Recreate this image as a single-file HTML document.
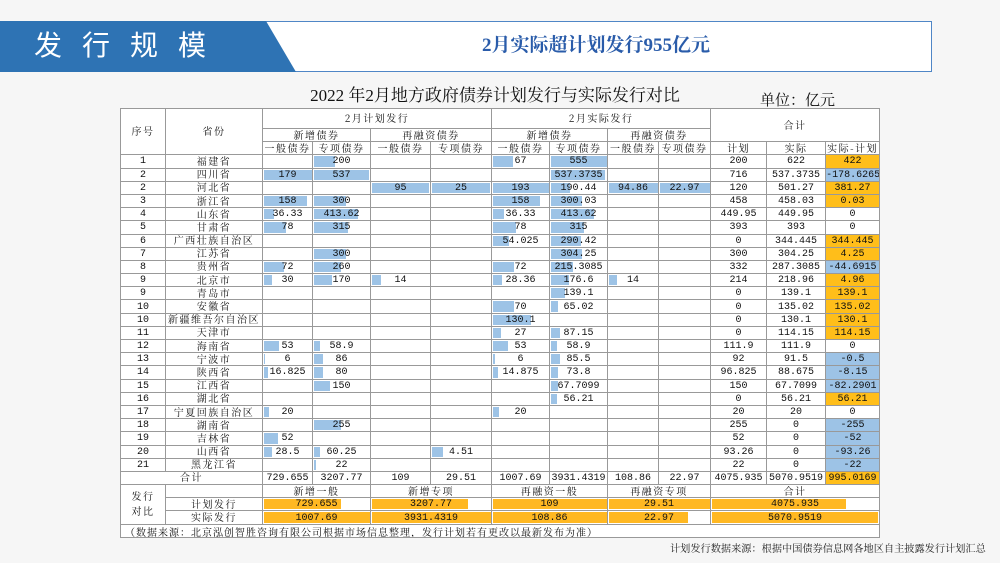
<!DOCTYPE html>
<html><head><meta charset="utf-8"><style>
*{margin:0;padding:0;box-sizing:border-box}
body{width:1000px;height:563px;overflow:hidden;background:#f6f6f6;position:relative;font-family:"Liberation Serif","Noto Serif CJK SC",serif}
.band{position:absolute;left:0;top:21px;width:296px;height:51px;background:#2e73b4;clip-path:polygon(0 0,266px 0,296px 51px,0 51px)}
.band span{position:absolute;left:34px;top:5px;color:#fff;font-family:"Noto Sans CJK SC",sans-serif;font-size:28px;line-height:36px;letter-spacing:20px}
.box{position:absolute;left:266px;top:21px;width:666px;height:51px;border:1.5px solid #4f86c6;border-left:none;background:#fff;z-index:-1}
.hl{position:absolute;left:296px;top:33px;width:600px;text-align:center;color:#2a5caa;font-weight:bold;font-size:19px;line-height:26px;font-family:"Liberation Serif","Noto Serif CJK SC",serif}
.title{position:absolute;left:270px;top:85px;width:450px;text-align:center;font-size:17px;line-height:22px;color:#111}
.unit{position:absolute;left:760px;top:91px;font-size:15px;line-height:20px;color:#111}
table{position:absolute;left:120px;top:108px;border-collapse:collapse;table-layout:fixed;width:759px;background:#fff;border:1.5px solid #777}
td{border:1px solid #999;text-align:center;vertical-align:middle;font-size:10px;line-height:11px;height:13.2px;padding:1px 0 0 0;position:relative;white-space:nowrap;overflow:hidden;color:#111;font-family:"Liberation Mono","Noto Serif CJK SC",monospace}
td.c{font-family:"Noto Serif CJK SC",serif;letter-spacing:1.5px;font-size:10px;line-height:11px;padding:0}
td.c span{position:relative;top:-1px}
td i{position:absolute;left:1px;top:1px;bottom:1px;background:#9dc3e6}
td u{text-decoration:none;position:relative}
td.o{background:#ffbe1a}
td.n{background:#9dc3e6}
td b{position:absolute;left:1px;top:1px;bottom:1px;background:#ffb822}
td em{font-style:normal;position:relative}
.src{text-align:left;font-family:"Noto Serif CJK SC",serif;font-size:10px;letter-spacing:1px;padding-left:4px}
.foot{position:absolute;left:670px;top:541px;font-size:10.2px;line-height:14px;white-space:nowrap;font-family:"Noto Serif CJK SC",serif;color:#222;letter-spacing:0}
</style></head><body>
<div class="box"></div>
<div class="band"><span>发行规模</span></div>
<div class="hl">2月实际超计划发行955亿元</div>
<div class="title">2022 年2月地方政府债券计划发行与实际发行对比</div>
<div class="unit">单位：亿元</div>
<table>
<colgroup><col style="width:45px"><col style="width:97px"><col style="width:50px"><col style="width:58px"><col style="width:60px"><col style="width:61px"><col style="width:58px"><col style="width:58px"><col style="width:51px"><col style="width:52px"><col style="width:56px"><col style="width:59px"><col style="width:54px"></colgroup>
<tr style="height:20px"><td class="c" rowspan="3"><span>序号</span></td><td class="c" rowspan="3"><span>省份</span></td><td class="c" colspan="4"><span>2月计划发行</span></td><td class="c" colspan="4"><span>2月实际发行</span></td><td class="c" colspan="3" rowspan="2"><span>合计</span></td></tr>
<tr><td class="c" colspan="2"><span>新增债券</span></td><td class="c" colspan="2"><span>再融资债券</span></td><td class="c" colspan="2"><span>新增债券</span></td><td class="c" colspan="2"><span>再融资债券</span></td></tr>
<tr><td class="c"><span>一般债券</span></td><td class="c"><span>专项债券</span></td><td class="c"><span>一般债券</span></td><td class="c"><span>专项债券</span></td><td class="c"><span>一般债券</span></td><td class="c"><span>专项债券</span></td><td class="c"><span>一般债券</span></td><td class="c"><span>专项债券</span></td><td class="c"><span>计划</span></td><td class="c"><span>实际</span></td><td class="c"><span>实际-计划</span></td></tr>
<tr><td>1</td><td class="c"><span>福建省</span></td><td></td><td><i style="width:37%"></i><u>200</u></td><td></td><td></td><td><i style="width:35%"></i><u>67</u></td><td><i style="width:98%"></i><u>555</u></td><td></td><td></td><td>200</td><td>622</td><td class="o">422</td></tr>
<tr><td>2</td><td class="c"><span>四川省</span></td><td><i style="width:97%"></i><u>179</u></td><td><i style="width:97%"></i><u>537</u></td><td></td><td></td><td></td><td><i style="width:95%"></i><u>537.3735</u></td><td></td><td></td><td>716</td><td>537.3735</td><td class="n">-178.6265</td></tr>
<tr><td>2</td><td class="c"><span>河北省</span></td><td></td><td></td><td><i style="width:97%"></i><u>95</u></td><td><i style="width:97%"></i><u>25</u></td><td><i style="width:98%"></i><u>193</u></td><td><i style="width:34%"></i><u>190.44</u></td><td><i style="width:97%"></i><u>94.86</u></td><td><i style="width:97%"></i><u>22.97</u></td><td>120</td><td>501.27</td><td class="o">381.27</td></tr>
<tr><td>3</td><td class="c"><span>浙江省</span></td><td><i style="width:88%"></i><u>158</u></td><td><i style="width:56%"></i><u>300</u></td><td></td><td></td><td><i style="width:82%"></i><u>158</u></td><td><i style="width:54%"></i><u>300.03</u></td><td></td><td></td><td>458</td><td>458.03</td><td class="o">0.03</td></tr>
<tr><td>4</td><td class="c"><span>山东省</span></td><td><i style="width:20%"></i><u>36.33</u></td><td><i style="width:77%"></i><u>413.62</u></td><td></td><td></td><td><i style="width:19%"></i><u>36.33</u></td><td><i style="width:75%"></i><u>413.62</u></td><td></td><td></td><td>449.95</td><td>449.95</td><td>0</td></tr>
<tr><td>5</td><td class="c"><span>甘肃省</span></td><td><i style="width:44%"></i><u>78</u></td><td><i style="width:59%"></i><u>315</u></td><td></td><td></td><td><i style="width:40%"></i><u>78</u></td><td><i style="width:57%"></i><u>315</u></td><td></td><td></td><td>393</td><td>393</td><td>0</td></tr>
<tr><td>6</td><td class="c"><span>广西壮族自治区</span></td><td></td><td></td><td></td><td></td><td><i style="width:28%"></i><u>54.025</u></td><td><i style="width:52%"></i><u>290.42</u></td><td></td><td></td><td>0</td><td>344.445</td><td class="o">344.445</td></tr>
<tr><td>7</td><td class="c"><span>江苏省</span></td><td></td><td><i style="width:56%"></i><u>300</u></td><td></td><td></td><td></td><td><i style="width:55%"></i><u>304.25</u></td><td></td><td></td><td>300</td><td>304.25</td><td class="o">4.25</td></tr>
<tr><td>8</td><td class="c"><span>贵州省</span></td><td><i style="width:40%"></i><u>72</u></td><td><i style="width:48%"></i><u>260</u></td><td></td><td></td><td><i style="width:37%"></i><u>72</u></td><td><i style="width:39%"></i><u>215.3085</u></td><td></td><td></td><td>332</td><td>287.3085</td><td class="n">-44.6915</td></tr>
<tr><td>9</td><td class="c"><span>北京市</span></td><td><i style="width:17%"></i><u>30</u></td><td><i style="width:32%"></i><u>170</u></td><td><i style="width:15%"></i><u>14</u></td><td></td><td><i style="width:15%"></i><u>28.36</u></td><td><i style="width:32%"></i><u>176.6</u></td><td><i style="width:15%"></i><u>14</u></td><td></td><td>214</td><td>218.96</td><td class="o">4.96</td></tr>
<tr><td>9</td><td class="c"><span>青岛市</span></td><td></td><td></td><td></td><td></td><td></td><td><i style="width:25%"></i><u>139.1</u></td><td></td><td></td><td>0</td><td>139.1</td><td class="o">139.1</td></tr>
<tr><td>10</td><td class="c"><span>安徽省</span></td><td></td><td></td><td></td><td></td><td><i style="width:36%"></i><u>70</u></td><td><i style="width:12%"></i><u>65.02</u></td><td></td><td></td><td>0</td><td>135.02</td><td class="o">135.02</td></tr>
<tr><td>10</td><td class="c"><span>新疆维吾尔自治区</span></td><td></td><td></td><td></td><td></td><td><i style="width:67%"></i><u>130.1</u></td><td></td><td></td><td></td><td>0</td><td>130.1</td><td class="o">130.1</td></tr>
<tr><td>11</td><td class="c"><span>天津市</span></td><td></td><td></td><td></td><td></td><td><i style="width:14%"></i><u>27</u></td><td><i style="width:16%"></i><u>87.15</u></td><td></td><td></td><td>0</td><td>114.15</td><td class="o">114.15</td></tr>
<tr><td>12</td><td class="c"><span>海南省</span></td><td><i style="width:30%"></i><u>53</u></td><td><i style="width:11%"></i><u>58.9</u></td><td></td><td></td><td><i style="width:27%"></i><u>53</u></td><td><i style="width:11%"></i><u>58.9</u></td><td></td><td></td><td>111.9</td><td>111.9</td><td>0</td></tr>
<tr><td>13</td><td class="c"><span>宁波市</span></td><td><i style="width:3%"></i><u>6</u></td><td><i style="width:16%"></i><u>86</u></td><td></td><td></td><td><i style="width:3%"></i><u>6</u></td><td><i style="width:15%"></i><u>85.5</u></td><td></td><td></td><td>92</td><td>91.5</td><td class="n">-0.5</td></tr>
<tr><td>14</td><td class="c"><span>陕西省</span></td><td><i style="width:9%"></i><u>16.825</u></td><td><i style="width:15%"></i><u>80</u></td><td></td><td></td><td><i style="width:8%"></i><u>14.875</u></td><td><i style="width:13%"></i><u>73.8</u></td><td></td><td></td><td>96.825</td><td>88.675</td><td class="n">-8.15</td></tr>
<tr><td>15</td><td class="c"><span>江西省</span></td><td></td><td><i style="width:28%"></i><u>150</u></td><td></td><td></td><td></td><td><i style="width:12%"></i><u>67.7099</u></td><td></td><td></td><td>150</td><td>67.7099</td><td class="n">-82.2901</td></tr>
<tr><td>16</td><td class="c"><span>湖北省</span></td><td></td><td></td><td></td><td></td><td></td><td><i style="width:10%"></i><u>56.21</u></td><td></td><td></td><td>0</td><td>56.21</td><td class="o">56.21</td></tr>
<tr><td>17</td><td class="c"><span>宁夏回族自治区</span></td><td><i style="width:11%"></i><u>20</u></td><td></td><td></td><td></td><td><i style="width:10%"></i><u>20</u></td><td></td><td></td><td></td><td>20</td><td>20</td><td>0</td></tr>
<tr><td>18</td><td class="c"><span>湖南省</span></td><td></td><td><i style="width:47%"></i><u>255</u></td><td></td><td></td><td></td><td></td><td></td><td></td><td>255</td><td>0</td><td class="n">-255</td></tr>
<tr><td>19</td><td class="c"><span>吉林省</span></td><td><i style="width:29%"></i><u>52</u></td><td></td><td></td><td></td><td></td><td></td><td></td><td></td><td>52</td><td>0</td><td class="n">-52</td></tr>
<tr><td>20</td><td class="c"><span>山西省</span></td><td><i style="width:16%"></i><u>28.5</u></td><td><i style="width:11%"></i><u>60.25</u></td><td></td><td><i style="width:18%"></i><u>4.51</u></td><td></td><td></td><td></td><td></td><td>93.26</td><td>0</td><td class="n">-93.26</td></tr>
<tr><td>21</td><td class="c"><span>黑龙江省</span></td><td></td><td><i style="width:4%"></i><u>22</u></td><td></td><td></td><td></td><td></td><td></td><td></td><td>22</td><td>0</td><td class="n">-22</td></tr>
<tr><td class="c" colspan="2"><span>合计</span></td><td>729.655</td><td>3207.77</td><td>109</td><td>29.51</td><td>1007.69</td><td>3931.4319</td><td>108.86</td><td>22.97</td><td>4075.935</td><td>5070.9519</td><td class="o">995.0169</td></tr>
<tr><td class="c" rowspan="3" style="white-space:normal;line-height:15px"><span>发行<br>对比</span></td><td></td><td class="c" colspan="2"><span>新增一般</span></td><td class="c" colspan="2"><span>新增专项</span></td><td class="c" colspan="2"><span>再融资一般</span></td><td class="c" colspan="2"><span>再融资专项</span></td><td class="c" colspan="3"><span>合计</span></td></tr>
<tr><td class="c"><span>计划发行</span></td><td colspan="2"><b style="width:72%"></b><em>729.655</em></td><td colspan="2"><b style="width:80%"></b><em>3207.77</em></td><td colspan="2"><b style="width:99%"></b><em>109</em></td><td colspan="2"><b style="width:99%"></b><em>29.51</em></td><td colspan="3"><b style="width:80%"></b><em>4075.935</em></td></tr>
<tr><td class="c"><span>实际发行</span></td><td colspan="2"><b style="width:99%"></b><em>1007.69</em></td><td colspan="2"><b style="width:99%"></b><em>3931.4319</em></td><td colspan="2"><b style="width:99%"></b><em>108.86</em></td><td colspan="2"><b style="width:77%"></b><em>22.97</em></td><td colspan="3"><b style="width:99%"></b><em>5070.9519</em></td></tr>
<tr><td colspan="13" class="src"><span>（数据来源：北京泓创智胜咨询有限公司根据市场信息整理，发行计划若有更改以最新发布为准）</span></td></tr>
</table>
<div class="foot">计划发行数据来源：根据中国债券信息网各地区自主披露发行计划汇总</div>
</body></html>
